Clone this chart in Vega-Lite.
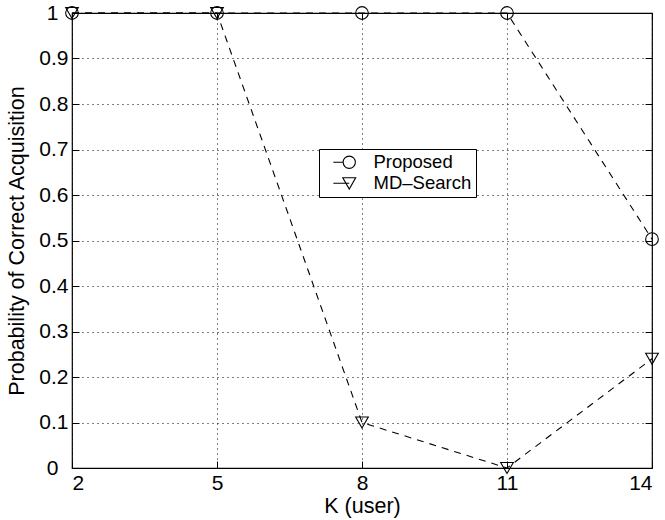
{
  "$schema": "https://vega.github.io/schema/vega-lite/v6.json",
  "autosize": {"type": "none"},
  "width": 580,
  "height": 455,
  "padding": {"left": 72, "top": 13, "right": 13, "bottom": 52},
  "background": "white",
  "config": {
    "font": "Liberation Sans",
    "view": {"stroke": "black", "strokeWidth": 1.2},
    "axis": {
      "domainColor": "black",
      "tickColor": "black",
      "labelColor": "black",
      "titleColor": "black",
      "labelFont": "Liberation Sans",
      "titleFont": "Liberation Sans",
      "labelFontSize": 21,
      "titleFontSize": 21.5,
      "titleFontWeight": "normal"
    }
  },
  "data": {
    "values": [
      {"K": 2, "p": 1, "method": "Proposed"},
      {"K": 5, "p": 1, "method": "Proposed"},
      {"K": 8, "p": 1, "method": "Proposed"},
      {"K": 11, "p": 1, "method": "Proposed"},
      {"K": 14, "p": 0.503, "method": "Proposed"},
      {"K": 2, "p": 1, "method": "MD\u2013Search"},
      {"K": 5, "p": 1, "method": "MD\u2013Search"},
      {"K": 8, "p": 0.1, "method": "MD\u2013Search"},
      {"K": 11, "p": 0, "method": "MD\u2013Search"},
      {"K": 14, "p": 0.24, "method": "MD\u2013Search"}
    ]
  },
  "layer": [
    {
      "mark": {"type": "line", "color": "black", "strokeDash": [7, 6], "strokeWidth": 1.1, "clip": false},
      "encoding": {
        "x": {
          "field": "K", "type": "quantitative",
          "scale": {"domain": [2, 14], "nice": false, "zero": false},
          "axis": {
            "orient": "bottom",
            "values": [2, 5, 8, 11, 14],
            "title": "K (user)",
            "grid": true, "gridColor": "black", "gridDash": [1, 4], "gridWidth": 1,
            "tickSize": -7, "labelPadding": 11, "titlePadding": 2, "domain": false
          }
        },
        "y": {
          "field": "p", "type": "quantitative",
          "scale": {"domain": [0, 1], "nice": false},
          "axis": {
            "orient": "left",
            "values": [0, 0.1, 0.2, 0.3, 0.4, 0.5, 0.6, 0.7, 0.8, 0.9, 1],
            "format": "~g",
            "title": "Probability of Correct Acquisition",
            "grid": true, "gridColor": "black", "gridDash": [1, 4], "gridWidth": 1,
            "tickSize": -7,
            "labelPadding": {"condition": {"test": "datum.value == 0 || datum.value == 1", "value": 21}, "value": 11},
            "titlePadding": 10, "domain": false
          }
        },
        "detail": {"field": "method"}
      }
    },
    {
      "mark": {"type": "point", "filled": false, "color": "black", "strokeWidth": 1.1, "size": 160, "opacity": 1, "clip": false},
      "encoding": {
        "x": {"field": "K", "type": "quantitative", "axis": null},
        "y": {"field": "p", "type": "quantitative", "axis": null},
        "shape": {
          "field": "method", "type": "nominal",
          "scale": {"domain": ["Proposed", "MD\u2013Search"], "range": ["circle", "triangle-down"]},
          "legend": null
        }
      }
    },
    {
      "mark": {"type": "point", "opacity": 0, "filled": false, "color": "black"},
      "encoding": {
        "x": {"field": "K", "type": "quantitative", "axis": {"orient": "top", "values": [2, 5, 8, 11, 14], "labels": false, "title": null, "grid": false, "tickSize": -7, "domain": false}},
        "y": {"field": "p", "type": "quantitative", "axis": {"orient": "right", "values": [0, 0.1, 0.2, 0.3, 0.4, 0.5, 0.6, 0.7, 0.8, 0.9, 1], "labels": false, "title": null, "grid": false, "tickSize": -7, "domain": false}},
        "shape": {
          "field": "method", "type": "nominal",
          "scale": {
            "domain": ["Proposed", "MD\u2013Search"],
            "range": [
              "M-2.6,0L-1,0M1,0A1,1 0 1,1 -1,0A1,1 0 1,1 1,0Z",
              "M-2.6,0L0,0M-1.05,-0.9L1.05,-0.9L0,0.95Z"
            ]
          },
          "legend": {
            "title": null,
            "orient": "none",
            "legendX": 247,
            "legendY": 136,
            "strokeColor": "black",
            "fillColor": "white",
            "padding": 4,
            "labelFontSize": 18.5,
            "labelFont": "Liberation Sans",
            "labelColor": "black",
            "labelExpr": "datum.label + '\u00a0\u00a0'",
            "symbolStrokeColor": "black",
            "symbolFillColor": "transparent",
            "symbolOpacity": 1,
            "symbolSize": 150,
            "symbolStrokeWidth": 1.1,
            "symbolOffset": 17,
            "rowPadding": 2,
            "labelOffset": 15
          }
        }
      }
    }
  ],
  "resolve": {"axis": {"x": "independent", "y": "independent"}, "scale": {"shape": "independent"}}
}
